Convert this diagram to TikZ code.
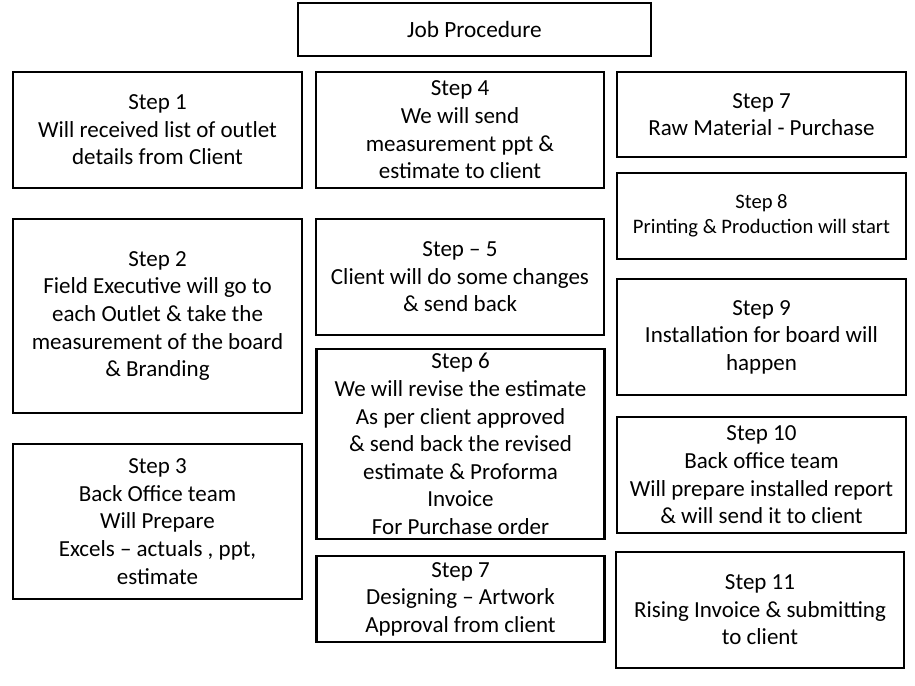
\documentclass[tikz,border=0pt]{standalone}
\usepackage{fontspec}
\setmainfont{Carlito}
\usepackage{tikz}
\usetikzlibrary{positioning}
\tikzstyle{stepbox}=[draw=black, line width=2.6pt, rectangle, align=center, inner sep=0pt,
    font=\fontsize{23}{27.6}\selectfont]
\tikzstyle{smallbox}=[stepbox, font=\fontsize{20.6}{25}\selectfont]

\begin{document}
\begin{tikzpicture}[x=1pt, y=-1pt]
\useasboundingbox (0,0) rectangle (915,685);
\node[stepbox, font=\fontsize{23.3}{27.6}\selectfont, minimum width=353, minimum height=53] (title) at (474.5,29.5){Job Procedure};
% first column
\node[stepbox, minimum width=289, minimum height=116] (step1) at (157.5,130){Step 1\\Will received list of outlet\\details from Client};
\node[stepbox, minimum width=289, minimum height=194] (step2) at (157.5,316){Step 2\\Field Executive will go to\\each Outlet \& take the\\measurement of the board\\\& Branding};
\node[stepbox, minimum width=289, minimum height=155] (step3) at (157.5,521.5){Step 3\\Back Office team\\Will Prepare\\Excels – actuals , ppt,\\estimate};
% second column
\node[stepbox, minimum width=288, minimum height=116] (step4) at (460,130){Step 4\\We will send\\measurement ppt \&\\estimate to client};
\node[stepbox, minimum width=288, minimum height=116] (step5) at (460,277){Step – 5\\Client will do some changes\\\& send back};
\node[stepbox, minimum width=288, minimum height=190] (step6) at (460.5,444){Step 6\\We will revise the estimate\\As per client approved\\\& send back the revised\\estimate \& Proforma\\Invoice\\For Purchase order};
\node[stepbox, minimum width=288, minimum height=86] (step7b) at (460.5,599){Step 7\\Designing – Artwork\\Approval from client};
% third column
\node[stepbox, minimum width=289, minimum height=85] (step7a) at (761.5,114.5){Step 7\\Raw Material - Purchase};
\node[smallbox, minimum width=289, minimum height=86] (step8) at (761.5,216){Step 8\\Printing \& Production will start};
\node[stepbox, minimum width=289, minimum height=116] (step9) at (761.5,337){Step 9\\Installation for board will\\happen};
\node[stepbox, minimum width=289, minimum height=116] (step10) at (761.5,475){Step 10\\Back office team\\Will prepare installed report\\\& will send it to client};
\node[stepbox, minimum width=288, minimum height=116] (step11) at (760,610){Step 11\\Rising Invoice \& submitting\\to client};
\end{tikzpicture}
\end{document}
